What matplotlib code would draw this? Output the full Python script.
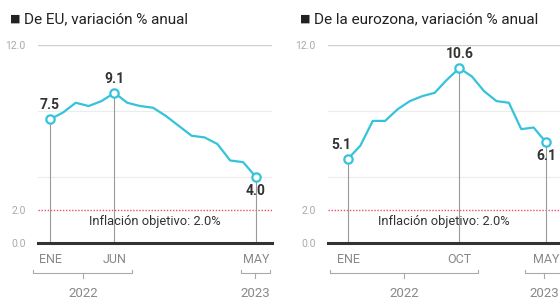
import matplotlib.pyplot as plt
import matplotlib.transforms as mtransforms

plt.rcParams['font.family'] = ['Roboto', 'DejaVu Sans']

# months Jan 2022 .. May 2023
months = list(range(17))

eu_values = [7.5, 7.9, 8.5, 8.3, 8.6, 9.1, 8.5, 8.3, 8.2, 7.7, 7.1, 6.5,
             6.4, 6.0, 5.0, 4.9, 4.0]
ez_values = [5.1, 5.9, 7.4, 7.4, 8.1, 8.6, 8.9, 9.1, 9.9, 10.6, 10.1, 9.2,
             8.6, 8.5, 6.9, 7.0, 6.1]

eu_title = 'De EU, variación % anual'
ez_title = 'De la eurozona, variación % anual'

eu_ticks = [0, 5, 16]
eu_ticklabels = ['ENE', 'JUN', 'MAY']
ez_ticks = [0, 9, 16]
ez_ticklabels = ['ENE', 'OCT', 'MAY']

# labelled points: index and label offset in points
eu_marks = [(0, (0, 10)), (5, (0, 10)), (16, (0, -10))]
ez_marks = [(0, (-5, 10)), (9, (0, 10)), (16, (0, -10))]

target = 2.0
years = ['2022', '2023']

LINE = '#35c3dc'
W, H = 560, 302

fig = plt.figure(figsize=(W / 100, H / 100), dpi=100)


def px_axes(x0, x1, y_top, y_bot):
    return fig.add_axes([x0 / W, (H - y_bot) / H, (x1 - x0) / W, (y_bot - y_top) / H])


def draw_panel(ax, values, ticks, ticklabels, marks, xlim, brackets, title, title_x):
    ax.set_xlim(*xlim)
    ax.set_ylim(0, 12)
    for s in ax.spines.values():
        s.set_visible(False)

    ax.axhline(12, color='#cfcfcf', lw=1)
    for g in (4, 8):
        ax.axhline(g, color='#ececec', lw=0.8)
    ax.axhline(target, color='#e8506a', lw=1, ls=(0, (1, 1.2)))
    ax.axhline(0, color='#333333', lw=2.2, clip_on=False, zorder=5)

    ax.text(0.5, 1.33, f'Inflación objetivo: {target:.1f}%',
            transform=mtransforms.blended_transform_factory(ax.transAxes, ax.transData),
            ha='center', va='center', fontsize=9.3, color='#333333')

    ax.plot(months, values, color=LINE, lw=1.6, zorder=3)
    for i, off in marks:
        v = values[i]
        ax.plot([i, i], [0, v], color='#9a9a9a', lw=0.8, zorder=2)
        ax.plot(i, v, 'o', ms=6, mfc='white', mec=LINE, mew=1.6, zorder=4, clip_on=False)
        ax.annotate(f'{v:.1f}', (i, v), xytext=off, textcoords='offset points',
                    ha='center', va='center', fontsize=10, fontweight='bold', color='#333333')

    ax.set_yticks([0, 2, 12])
    ax.set_yticklabels(['0.0', '2.0', '12.0'], fontsize=7.5, color='#aaaaaa')
    ax.set_xticks(ticks)
    ax.set_xticklabels(ticklabels, fontsize=9, color='#888888')
    ax.tick_params(axis='y', length=0, pad=9)
    ax.tick_params(axis='x', length=0, pad=7)

    tr = mtransforms.blended_transform_factory(ax.transData, ax.transAxes)
    for (a, b), year in zip(brackets, years):
        ax.plot([a, a, b, b], [-0.135, -0.152, -0.152, -0.135], color='#aaaaaa', lw=0.8,
                transform=tr, clip_on=False)
        c = (a + b) / 2
        ax.plot([c, c], [-0.152, -0.175], color='#aaaaaa', lw=0.8, transform=tr, clip_on=False)
        ax.text(c, -0.255, year, transform=tr, ha='center', va='center', fontsize=9.5,
                color='#888888', clip_on=False)

    fig.text(title_x / W, 1 - 19 / H, '■', fontsize=8, color='#222222', va='center',
             family='DejaVu Sans')
    fig.text((title_x + 14) / W, 1 - 19 / H, title, fontsize=11, color='#222222', va='center')


ax1 = px_axes(38, 272, 45, 243)
draw_panel(ax1, eu_values, eu_ticks, eu_ticklabels, eu_marks,
           ((38 - 50) / 12.875, (272 - 50) / 12.875),
           [(-1.3, 6.4), (14.8, 17.1)], eu_title, 10)

ax2 = px_axes(328, 560, 45, 243)
draw_panel(ax2, ez_values, ez_ticks, ez_ticklabels, ez_marks,
           ((328 - 348) / 12.375, (560 - 348) / 12.375),
           [(-1.45, 10.5), (14.3, 17.4)], ez_title, 300)

fig.savefig('out.png', dpi=100)
